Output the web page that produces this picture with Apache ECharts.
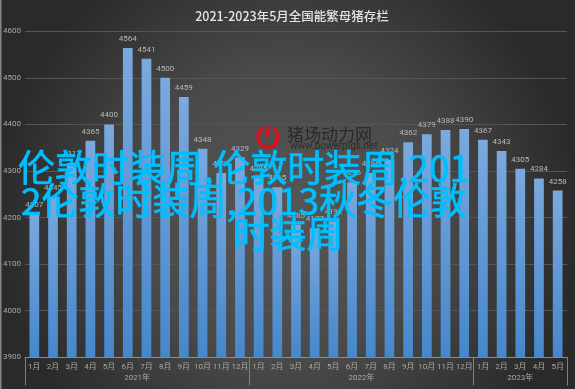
<!DOCTYPE html>
<html><head><meta charset="utf-8">
<style>html,body{margin:0;padding:0;background:#333}#c{width:575px;height:389px}</style>
<script src="https://cdn.jsdelivr.net/npm/echarts@6/dist/echarts.min.js"></script>
</head><body><div id="c"></div>
<script>
const titleText = '2021-2023年5月全国能繁母猪存栏';
const months = ['1月','2月','3月','4月','5月','6月','7月','8月','9月','10月','11月','12月','1月','2月','3月','4月','5月','6月','7月','8月','9月','10月','11月','12月','1月','2月','3月','4月','5月'];
const stock = [4207,4245,4317,4365,4400,4564,4541,4500,4459,4348,4296,4329,4285,4265,4185,4177,4192,4276,4296,4324,4362,4379,4388,4390,4367,4343,4305,4284,4258];
const yearNames = ['2021年','2022年','2023年'];
const yearEdges = [0,12,24,29];
const yearCentres = [6,18,26.5];
const overlayLines = ['伦敦时装周,伦敦时装周,201','2伦敦时装周,2013秋冬伦敦','时装周'];
const watermark = ['猪场动力网','www.powerpigs.net'];
const FONT = 'Roboto,"Noto Sans CJK SC",sans-serif';
const CJK = '"Noto Sans CJK SC",sans-serif';
const tickColor = '#a8a8a8';

const overlay = (i,x,y)=>({type:'text',silent:true,x,y,z:100+i,
  style:{text:overlayLines[i],fill:'#00bfff',stroke:'#00bfff',lineWidth:0.7,align:'center',verticalAlign:'middle',font:'37px '+CJK}});

const chart = echarts.init(document.getElementById('c'), null, {renderer:'canvas'});
chart.setOption({
  animation:false,
  backgroundColor:{type:'radial',x:0.5,y:0.55,r:0.75,colorStops:[{offset:0,color:'#565656'},{offset:0.5,color:'#4a4a4a'},{offset:1,color:'#2a2a2a'}]},
  title:{text:titleText,left:287,top:5,textAlign:'center',textStyle:{color:'#e4e4e4',fontSize:12.5,fontWeight:500,fontFamily:CJK}},
  grid:{left:24.5,right:8,top:31.3,bottom:31.7},
  xAxis:[{
    type:'category',data:months,
    axisLine:{lineStyle:{color:'#8c8c8c',width:1}},
    axisTick:{show:false},
    axisLabel:{color:tickColor,fontSize:8,margin:6,interval:0,fontFamily:FONT}
  },{
    type:'value',min:0,max:29,position:'bottom',
    splitLine:{show:false},axisLine:{show:false},
    axisTick:{show:true,length:28,customValues:yearEdges,lineStyle:{color:'#808080',width:1}},
    axisLabel:{color:tickColor,fontSize:8,margin:17,fontFamily:FONT,showMinLabel:true,showMaxLabel:true,customValues:yearCentres,
      formatter:v=>yearNames[yearCentres.indexOf(v)]}
  }],
  yAxis:{type:'value',min:3900,max:4600,interval:100,
    axisLine:{show:false},axisTick:{show:false},
    axisLabel:{color:tickColor,fontSize:8,margin:4,fontFamily:FONT,formatter:v=>String(v)},
    splitLine:{lineStyle:{color:'#555555',width:1}}},
  series:[{type:'bar',data:stock,barWidth:'52%',
    itemStyle:{color:{type:'linear',x:0,y:0,x2:0,y2:1,colorStops:[{offset:0,color:'#7aa9de'},{offset:1,color:'#4687cb'}]}},
    label:{show:true,position:'top',distance:5,color:'#b8b8b8',fontSize:8,fontFamily:FONT}}],
  graphic:[
    {type:'rect',silent:true,shape:{x:0,y:0,width:1.5,height:389},style:{fill:'#7e8b80'},z:50},
    {type:'arc',silent:true,shape:{cx:268,cy:137,r:10,startAngle:-Math.PI/2+0.55,endAngle:-Math.PI/2-0.55,clockwise:true},style:{fill:null,stroke:'#dc0f1e',lineWidth:3.5},z:50},
    {type:'rect',silent:true,shape:{x:266.2,y:125,width:3.4,height:13},style:{fill:'#dc0f1e'},z:50},
    {type:'text',silent:true,x:287,y:126,style:{text:watermark[0],fill:'#2a2a2a',font:'17px '+CJK},z:50},
    {type:'text',silent:true,x:290,y:141,style:{text:watermark[1],fill:'#2c2c2c',font:'10px '+FONT},z:50},
    overlay(0,244,168),
    overlay(1,244,201),
    overlay(2,288,234)
  ]
});
</script></body></html>
